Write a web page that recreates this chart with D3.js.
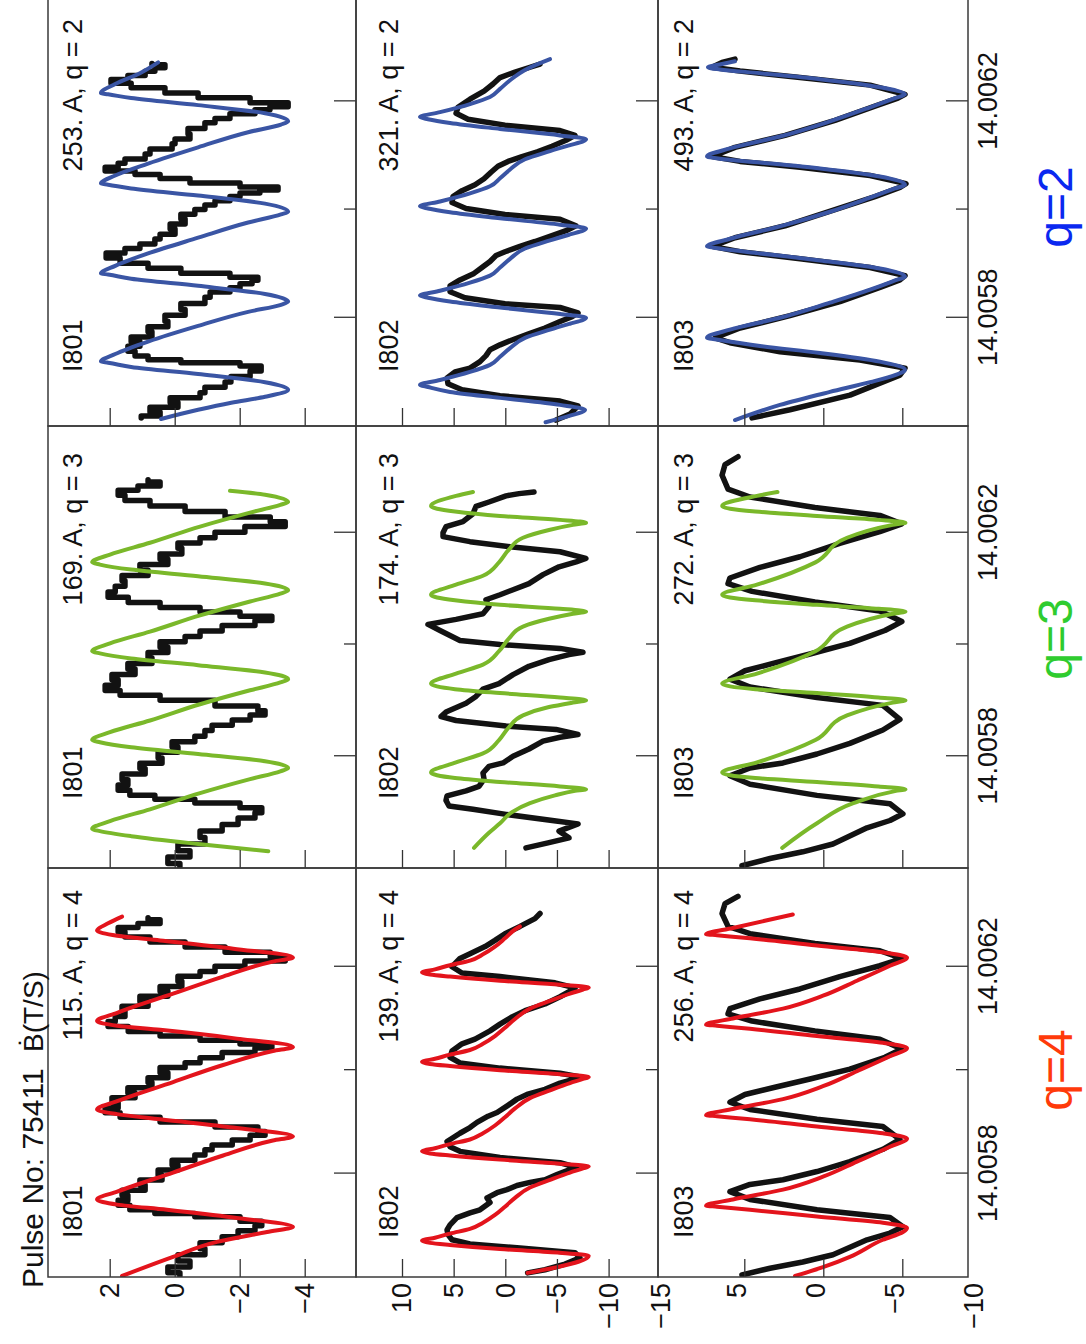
<!DOCTYPE html>
<html>
<head>
<meta charset="utf-8">
<script src="https://cdn.jsdelivr.net/npm/d3@7"></script>
<style>
  body { margin: 0; background: #fff; }
  svg { display: block; }
  text { font-family: "Liberation Sans", Arial, Helvetica, sans-serif; fill: #111; }
</style>
</head>
<body>
<svg id="chart" width="1086" height="1344"></svg>
<script>
// Pulse 75411: dB/dt on probes I801-I803 with island-model fits for q = 4, 3, 2.
// Sample times are microseconds after T0 (seconds); values are dB/dt in T/s.
const T0 = 14.0056;
const timeSpanUs = 791;

const probes = ["I801", "I802", "I803"];
const qValues = [4, 3, 2];
const currents = [[115, 169, 253], [139, 174, 321], [256, 272, 493]]; // [probe][q]

const timeTicks = [14.0058, 14.0062];
const timeMinorTicks = [14.0060];
const yTicks = [[2, 0, -2, -4], [10, 5, 0, -5, -10], [5, 0, -5]];
const yTickLabels = [[2, 0, -2, -4], [10, 5, 0, -5, -10, -15], [5, 0, -5, -10]];

// ---- measured probe signals ----
const measI801 = [[2,-0.16],[14,0.21],[25,-0.47],[37,-0.10],[49,-0.93],[60,-0.78],[72,-1.46],[84,-1.95],[95,-2.47],[103,-2.68],[113,-2.01],[120,-0.62],[126,0.61],[134,1.38],[144,1.74],[153,1.44],[163,1.62],[173,0.91],[183,1.07],[192,0.39],[202,0.51],[212,-0.10],[221,0.08],[231,-0.62],[241,-0.93],[251,-1.15],[260,-1.77],[270,-2.32],[278,-2.78],[285,-2.56],[295,-1.24],[305,0.45],[313,1.68],[322,2.14],[332,1.74],[342,1.93],[351,1.22],[361,1.44],[371,0.70],[381,0.82],[390,0.21],[400,0.45],[410,-0.32],[419,-0.78],[429,-1.46],[439,-2.47],[447,-2.99],[454,-2.01],[462,-0.78],[470,0.45],[480,1.43],[489,2.05],[499,1.83],[509,1.53],[519,1.62],[528,0.82],[538,1.07],[548,0.21],[557,0.45],[567,-0.22],[577,-0.10],[586,-0.78],[596,-1.24],[606,-2.16],[616,-3.40],[623,-2.94],[633,-1.55],[643,-0.32],[653,0.76],[662,1.53],[672,1.74],[680,1.13],[687,0.45],[695,0.82]];
const measI801q2 = [[15,1.03],[22,0.45],[30,0.76],[39,-0.10],[48,0.14],[56,-0.78],[67,-0.93],[76,-1.55],[87,-1.73],[96,-2.32],[107,-2.66],[115,-2.01],[119,-0.19],[126,0.82],[133,1.22],[143,1.44],[152,1.07],[159,1.34],[170,0.70],[178,0.82],[189,0.21],[198,0.30],[211,-0.32],[220,-0.19],[233,-0.93],[243,-1.09],[252,-1.70],[259,-2.01],[267,-2.38],[272,-2.56],[278,-1.70],[287,-0.19],[296,0.82],[306,1.68],[315,2.11],[324,1.53],[332,1.07],[341,0.61],[350,0.45],[359,-0.01],[369,0.14],[378,-0.32],[387,-0.19],[396,-0.62],[404,-0.93],[413,-1.24],[420,-1.70],[428,-2.01],[433,-2.62],[439,-3.18],[444,-2.01],[454,-0.47],[461,0.45],[469,1.22],[474,2.14],[482,1.74],[489,1.53],[498,0.91],[507,0.76],[517,0.08],[526,-0.01],[535,-0.47],[544,-0.41],[556,-0.93],[565,-1.24],[572,-1.70],[582,-2.47],[587,-2.93],[593,-3.49],[602,-2.32],[611,-0.72],[620,0.30],[630,1.34],[637,1.96],[644,1.44],[652,0.91],[659,0.61],[665,0.30],[670,0.70]];

const measI802 = [[8,-2.16],[14,-3.84],[25,-5.78],[37,-7.23],[47,-6.75],[56,-1.42],[64,3.42],[72,5.16],[82,5.55],[91,5.64],[101,5.35],[115,4.68],[124,3.42],[130,2.45],[144,1.48],[153,1.77],[163,0.80],[169,-0.16],[177,-1.13],[183,-2.39],[188,-3.84],[198,-5.0],[208,-6.26],[212,-6.94],[221,-5.30],[231,0.51],[243,4.39],[252,5.35],[262,5.64],[278,4.39],[289,3.42],[299,2.74],[311,1.67],[318,0.80],[332,-0.26],[344,-1.13],[353,-2.10],[363,-3.84],[375,-5.30],[383,-6.75],[386,-7.52],[394,-5.30],[404,0.51],[414,4.39],[425,5.35],[437,5.16],[451,4.19],[460,2.93],[476,1.48],[489,0.51],[503,-0.65],[515,-1.91],[528,-3.84],[542,-5.30],[553,-6.26],[559,-6.75],[569,-4.81],[581,0.51],[588,4.19],[600,5.16],[616,4.39],[625,3.42],[639,1.96],[651,1.0],[664,0.03],[678,-1.42],[693,-2.87],[703,-3.36]];
const measI802q3 = [[36,-2.00],[45,-4.13],[54,-6.17],[66,-5.20],[79,-7.04],[84,-4.91],[96,-0.07],[105,3.13],[111,5.45],[121,5.74],[129,5.64],[138,3.80],[146,2.55],[159,2.06],[170,2.16],[182,1.58],[188,0.22],[200,-0.75],[213,-2.29],[227,-3.65],[234,-5.30],[239,-7.04],[248,-4.91],[254,-0.07],[264,4.77],[271,6.22],[279,5.74],[295,3.80],[307,2.84],[320,2.16],[330,0.61],[346,-0.75],[361,-2.29],[373,-4.23],[382,-6.17],[386,-7.52],[393,-5.30],[400,0.51],[407,4.39],[425,6.32],[436,7.48],[445,4.77],[455,2.16],[468,1.58],[480,1.87],[489,0.51],[498,-0.75],[509,-2.29],[525,-3.65],[539,-5.20],[548,-6.86],[554,-7.80],[566,-5.30],[575,-0.46],[584,3.42],[593,6.03],[600,6.03],[611,5.74],[620,4.10],[634,3.13],[647,2.84],[655,1.58],[666,-0.07],[670,-1.33],[673,-2.78]];
const measI802q2 = [[11,-4.91],[22,-6.26],[37,-7.04],[46,-5.30],[56,0.51],[67,4.19],[78,5.55],[89,5.64],[100,4.87],[107,3.42],[119,2.45],[130,1.87],[141,1.48],[150,0.51],[159,-0.65],[170,-2.20],[181,-3.84],[193,-5.30],[202,-6.46],[209,-7.04],[219,-5.30],[226,0.03],[237,3.90],[248,5.35],[259,5.35],[270,4.39],[282,3.03],[293,2.26],[304,1.48],[315,0.90],[322,0.03],[332,-1.42],[341,-2.88],[352,-4.52],[361,-5.88],[370,-6.84],[382,-5.30],[391,0.03],[402,3.80],[413,5.16],[424,5.06],[435,4.19],[446,2.93],[457,2.06],[469,1.38],[480,0.71],[489,-0.26],[498,-1.62],[507,-3.17],[517,-4.52],[528,-5.88],[537,-6.75],[546,-5.30],[556,0.03],[567,3.61],[578,4.77],[589,4.58],[604,3.42],[619,2.06],[632,1.19],[644,0.51],[654,-0.94],[663,-2.39],[669,-3.36]];

const measI803 = [[4,5.15],[17,3.37],[29,1.30],[43,-0.61],[72,-2.77],[85,-4.22],[97,-5.04],[115,-4.22],[130,0.40],[150,4.64],[165,5.91],[179,4.64],[188,2.55],[204,0.40],[223,-1.68],[247,-3.77],[266,-4.85],[291,-3.77],[305,0.40],[324,4.64],[338,5.91],[353,4.96],[367,3.06],[383,0.84],[402,-1.68],[425,-3.90],[441,-4.97],[460,-3.58],[476,0.53],[495,4.51],[509,6.03],[519,5.91],[538,4.01],[557,1.48],[581,-1.04],[602,-3.58],[616,-4.97],[631,-3.58],[645,0.53],[664,4.64],[678,6.03],[703,6.41],[722,6.22],[736,5.40]];
const measI803q2 = [[15,4.51],[30,2.11],[57,-1.69],[94,-4.85],[107,-5.17],[122,-2.32],[137,2.74],[154,5.91],[163,6.85],[181,5.27],[204,2.11],[230,-1.06],[256,-3.59],[270,-4.85],[278,-5.17],[293,-2.96],[309,1.47],[322,5.27],[332,7.04],[348,5.59],[370,2.42],[400,-0.74],[424,-3.27],[441,-4.85],[448,-5.23],[463,-2.96],[478,1.47],[489,5.27],[498,7.04],[515,5.59],[537,2.42],[565,-0.74],[591,-3.27],[606,-4.72],[613,-5.17],[630,-2.96],[644,1.47],[656,5.27],[663,7.04],[672,6.41],[678,5.59]];

// ---- model fits ----
const fitI801q4 = [[2,1.62],[39,0.05],[68,-1.30],[87,-2.84],[97,-3.64],[115,-1.80],[130,0.24],[140,1.77],[150,2.39],[165,1.77],[202,0.05],[235,-1.49],[264,-3.02],[272,-3.64],[289,-1.80],[305,0.45],[315,1.77],[324,2.39],[340,1.77],[377,0.05],[410,-1.49],[437,-3.02],[445,-3.64],[462,-1.80],[478,0.45],[486,1.77],[495,2.39],[511,1.77],[548,0.05],[581,-1.49],[610,-3.02],[618,-3.64],[635,-1.80],[651,0.45],[660,1.77],[670,2.39],[684,2.05],[697,1.62]];
const fitI802q4 = [[8,-2.16],[19,-5.0],[41,-8.08],[47,-5.30],[54,0.51],[62,5.35],[66,7.29],[70,8.06],[76,6.81],[84,5.35],[93,3.42],[105,2.16],[120,1.0],[136,0.03],[153,-0.94],[173,-2.39],[188,-4.33],[202,-6.26],[210,-7.52],[214,-8.08],[219,-5.30],[227,0.51],[235,5.35],[239,7.29],[243,8.06],[249,6.81],[257,5.35],[266,3.42],[278,2.16],[293,1.0],[309,0.03],[326,-0.94],[346,-2.39],[361,-4.33],[375,-6.26],[383,-7.52],[387,-8.08],[392,-5.30],[400,0.51],[408,5.35],[412,7.29],[416,8.06],[422,6.81],[430,5.35],[439,3.42],[451,2.16],[466,1.0],[482,0.03],[499,-0.94],[519,-2.39],[534,-4.33],[548,-6.26],[556,-7.52],[560,-8.08],[565,-5.30],[573,0.51],[581,5.35],[585,7.29],[589,8.06],[595,6.81],[603,5.35],[612,3.42],[624,2.16],[639,1.0],[655,0.03],[672,-0.94],[678,-1.42]];
const fitI803q4 = [[2,1.79],[19,0.02],[39,-1.68],[72,-3.77],[87,-5.04],[95,-5.30],[105,-3.77],[117,0.40],[130,4.64],[136,6.73],[138,7.42],[150,5.72],[169,2.55],[194,0.02],[223,-2.13],[252,-4.22],[268,-5.30],[278,-3.77],[291,0.40],[305,4.64],[311,6.73],[313,7.42],[325,5.72],[344,2.55],[369,0.02],[398,-2.13],[427,-4.22],[443,-5.30],[453,-3.77],[466,0.40],[480,4.64],[486,6.73],[488,7.42],[500,5.72],[519,2.55],[544,0.02],[573,-2.13],[602,-4.22],[618,-5.30],[628,-3.77],[641,0.40],[655,4.64],[661,6.73],[663,7.42],[675,5.72],[689,3.70],[701,1.93]];

const fitI801q3 = [[30,-2.88],[43,-0.72],[57,1.34],[66,2.30],[70,2.54],[84,1.99],[105,0.76],[134,-0.78],[159,-2.32],[173,-3.25],[179,-3.49],[191,-2.78],[204,-0.72],[216,1.34],[225,2.30],[229,2.54],[243,1.99],[264,0.76],[293,-0.78],[318,-2.32],[332,-3.25],[338,-3.49],[350,-2.78],[363,-0.72],[375,1.34],[384,2.30],[388,2.54],[402,1.99],[423,0.76],[452,-0.78],[477,-2.32],[491,-3.25],[497,-3.49],[509,-2.78],[522,-0.72],[534,1.34],[543,2.30],[547,2.54],[561,1.99],[582,0.76],[611,-0.78],[636,-2.32],[650,-3.25],[655,-3.49],[668,-2.78],[675,-1.70]];
const fitI802q3 = [[36,3.03],[63,1.58],[80,0.51],[100,-0.65],[116,-2.39],[130,-4.81],[138,-6.75],[141,-7.82],[146,-5.30],[154,0.51],[161,4.87],[166,6.61],[171,7.19],[189,4.77],[205,2.16],[229,0.61],[252,-0.36],[273,-1.71],[288,-4.23],[296,-6.55],[300,-7.82],[305,-5.30],[313,0.51],[320,4.87],[325,6.61],[330,7.19],[348,4.77],[364,2.16],[388,0.61],[411,-0.36],[432,-1.71],[446,-4.23],[455,-6.55],[459,-7.82],[464,-5.30],[471,0.51],[479,4.87],[484,6.61],[489,7.19],[507,4.77],[523,2.16],[547,0.61],[570,-0.36],[591,-1.71],[605,-4.23],[614,-6.55],[618,-7.82],[623,-5.30],[630,0.51],[638,4.87],[643,6.61],[648,7.19],[666,4.77],[673,3.13]];
const fitI803q3 = [[36,2.6],[80,0.4],[116,-1.9],[138,-4.6],[141,-5.2],[146,-3.5],[154,0.4],[161,4.3],[166,5.9],[171,6.4],[189,4.2],[229,0.5],[273,-1.5],[296,-4.4],[300,-5.2],[305,-3.5],[313,0.4],[320,4.3],[325,5.9],[330,6.4],[348,4.2],[388,0.5],[432,-1.5],[455,-4.4],[459,-5.2],[464,-3.5],[471,0.4],[479,4.3],[484,5.9],[489,6.4],[507,4.2],[547,0.5],[591,-1.5],[614,-4.4],[618,-5.2],[623,-3.5],[630,0.4],[638,4.3],[643,5.9],[648,6.4],[666,4.2],[673,2.9]];

const fitI801q2 = [[13,0.42],[30,-0.72],[43,-1.74],[54,-2.78],[67,-3.49],[81,-2.78],[96,-0.72],[109,1.34],[117,2.05],[119,2.27],[133,1.83],[156,0.82],[185,-0.72],[211,-2.26],[224,-3.27],[230,-3.49],[244,-2.78],[259,-0.72],[272,1.34],[280,2.05],[282,2.27],[296,1.83],[319,0.82],[348,-0.72],[376,-2.26],[391,-3.27],[396,-3.49],[411,-2.78],[426,-0.72],[439,1.34],[446,2.05],[448,2.27],[463,1.83],[485,0.82],[515,-0.72],[543,-2.26],[557,-3.27],[563,-3.49],[578,-2.78],[593,-0.72],[606,1.34],[613,2.05],[615,2.27],[632,1.83],[652,1.07],[672,0.51]];
const fitI802q2 = [[7,-3.90],[19,-6.26],[30,-7.72],[39,-5.30],[52,0.51],[63,5.35],[72,7.48],[76,8.26],[85,6.32],[100,3.42],[113,1.48],[128,0.51],[144,-0.46],[163,-1.91],[178,-4.33],[189,-6.26],[196,-7.52],[200,-7.82],[207,-5.30],[219,0.51],[230,5.35],[237,7.48],[241,8.26],[250,6.32],[265,3.42],[278,1.48],[293,0.51],[309,-0.46],[328,-1.91],[343,-4.33],[354,-6.26],[361,-7.52],[365,-7.82],[372,-5.30],[384,0.51],[395,5.35],[402,7.48],[406,8.26],[415,6.32],[430,3.42],[443,1.48],[458,0.51],[474,-0.46],[493,-1.91],[508,-4.33],[519,-6.26],[526,-7.52],[530,-7.82],[537,-5.30],[549,0.51],[560,5.35],[567,7.48],[571,8.26],[580,6.32],[595,3.42],[608,1.48],[623,0.51],[639,-0.46],[658,-1.91],[678,-4.33]];
const fitI803q2 = [[11,5.59],[39,2.74],[63,-0.42],[81,-2.96],[94,-4.54],[104,-5.17],[119,-3.58],[135,0.21],[148,4.01],[159,6.54],[163,7.36],[178,5.91],[200,2.74],[228,-0.42],[252,-2.96],[269,-4.54],[276,-5.17],[291,-3.58],[306,0.21],[319,4.01],[328,6.54],[332,7.36],[346,5.91],[369,2.74],[396,-0.42],[422,-2.96],[439,-4.54],[446,-5.17],[461,-3.58],[476,0.21],[487,4.01],[494,6.54],[498,7.36],[513,5.91],[535,2.74],[563,-0.42],[589,-2.96],[606,-4.54],[613,-5.17],[626,-3.58],[641,0.21],[652,4.01],[659,6.54],[663,7.30],[669,6.41],[674,5.59]];

const measured = [[measI801, measI801, measI801q2], [measI802, measI802q3, measI802q2], [measI803, measI803, measI803q2]];
const fitted = [[fitI801q4, fitI801q3, fitI801q2], [fitI802q4, fitI802q3, fitI802q2], [fitI803q4, fitI803q3, fitI803q2]];

// ---- layout (drawn in a landscape frame, then turned a quarter turn) ----
const FW = 1344;
const colEdges = [[67, 476], [476, 918], [918, 1346]];
const rowEdges = [[48, 356], [356, 658], [658, 968]];
const rowScale = [
  { dom: [2, -4], rng: [109.7, 304.7], labelShift: 0, noisy: true },
  { dom: [10, -10], rng: [402, 608.6], labelShift: 0, noisy: false },
  { dom: [5, -5], rng: [744.3, 902.3], labelShift: -8, noisy: false }
];
const fitColor = { 4: "#e3141c", 3: "#7ab82a", 2: "#3a55a4" };
const qColor = { 4: "#ff3a0a", 3: "#2fcc2f", 2: "#0a28f0" };
const probeLabelX = [106, 545, 972];
const probeLabelBase = [82, 398, 693];
const currentLabelInset = [22, 27, 21];
const qLabelX = [274, 705, 1137];

const svg = d3.select("#chart");
const defs = svg.append("defs");
const frame = svg.append("g").attr("transform", `translate(0,${FW}) rotate(-90)`);

const xScales = colEdges.map(([a, b]) => d3.scaleLinear().domain([T0, T0 + timeSpanUs * 1e-6]).range([a, b]));
const yScales = rowScale.map(r => d3.scaleLinear().domain(r.dom).range(r.rng));
const fmtTick = d3.format(".4f");
const fmtVal = d3.format("d");

probes.forEach((probe, r) => {
  qValues.forEach((q, c) => {
    const xs = xScales[c], ys = yScales[r];
    const [x0, x1] = colEdges[c], [y0, y1] = rowEdges[r];
    const id = `clip-${r}-${c}`;
    defs.append("clipPath").attr("id", id)
      .append("rect").attr("x", x0).attr("y", y0).attr("width", x1 - x0).attr("height", y1 - y0);

    const panel = frame.append("g");
    const line = d3.line().x(d => xs(T0 + d[0] * 1e-6)).y(d => ys(d[1]));

    const plot = panel.append("g").attr("clip-path", `url(#${id})`);
    // the noisy I801 signal is drawn as held samples, the others as a trace
    plot.append("path").datum(measured[r][c])
      .attr("d", line.curve(rowScale[r].noisy ? d3.curveStep : d3.curveLinear))
      .attr("fill", "none").attr("stroke", "#121212").attr("stroke-width", 5.5)
      .attr("stroke-linejoin", "round").attr("stroke-linecap", "round");
    plot.append("path").datum(fitted[r][c])
      .attr("d", line.curve(d3.curveMonotoneX))
      .attr("fill", "none").attr("stroke", fitColor[q]).attr("stroke-width", 4)
      .attr("stroke-linejoin", "round").attr("stroke-linecap", "round");

    // time axis ticks (inward) on the lower edge of every panel
    const tAxis = d3.axisBottom(xs).tickValues(timeTicks).tickSize(-22).tickPadding(10)
      .tickFormat(r === probes.length - 1 ? fmtTick : "");
    panel.append("g").attr("transform", `translate(0,${y1})`).call(tAxis)
      .call(g => g.select(".domain").remove())
      .call(g => g.selectAll("line").attr("stroke", "#333").attr("stroke-width", 1.3))
      .call(g => g.selectAll("text").attr("font-size", 27).attr("fill", "#111"));
    const tMinor = d3.axisBottom(xs).tickValues(timeMinorTicks).tickSize(-12).tickFormat("");
    panel.append("g").attr("transform", `translate(0,${y1})`).call(tMinor)
      .call(g => g.select(".domain").remove())
      .call(g => g.selectAll("line").attr("stroke", "#333").attr("stroke-width", 1.3));

    // value ticks (inward) on the left edge of every panel
    const vAxis = d3.axisLeft(ys).tickValues(yTicks[r]).tickSize(-18).tickFormat("");
    panel.append("g").attr("transform", `translate(${x0},0)`).call(vAxis)
      .call(g => g.select(".domain").remove())
      .call(g => g.selectAll("line").attr("stroke", "#333").attr("stroke-width", 1.3));

    // frame
    panel.append("rect").attr("x", x0).attr("y", y0).attr("width", x1 - x0).attr("height", y1 - y0)
      .attr("fill", "none").attr("stroke", "#3a3a3a").attr("stroke-width", 1.5);

    // panel annotations
    panel.append("text").attr("x", probeLabelX[c]).attr("y", probeLabelBase[r])
      .attr("font-size", 27).text(probe);
    panel.append("text").attr("x", x1 - currentLabelInset[c]).attr("y", probeLabelBase[r])
      .attr("text-anchor", "end").attr("font-size", 27)
      .text(`${currents[r][c]}. A, q = ${q}`);
  });

  // value labels left of the first column
  frame.append("g").selectAll("text").data(yTickLabels[r]).join("text")
    .attr("x", colEdges[0][0] - 6)
    .attr("y", d => yScales[r](d) + rowScale[r].labelShift)
    .attr("dy", "0.35em").attr("text-anchor", "end").attr("font-size", 27)
    .text(d => fmtVal(d));
});

// title
frame.append("text").attr("x", 56).attr("y", 43).attr("font-size", 30).text("Pulse No: 75411");
frame.append("text").attr("x", 292).attr("y", 43).attr("font-size", 28).text("Ḃ(T/S)");

// q labels under each column
qValues.forEach((q, c) => {
  frame.append("text").attr("x", qLabelX[c]).attr("y", 1072)
    .attr("text-anchor", "middle").attr("font-size", 48)
    .style("fill", qColor[q]).text(`q=${q}`);
});
</script>
</body>
</html>
